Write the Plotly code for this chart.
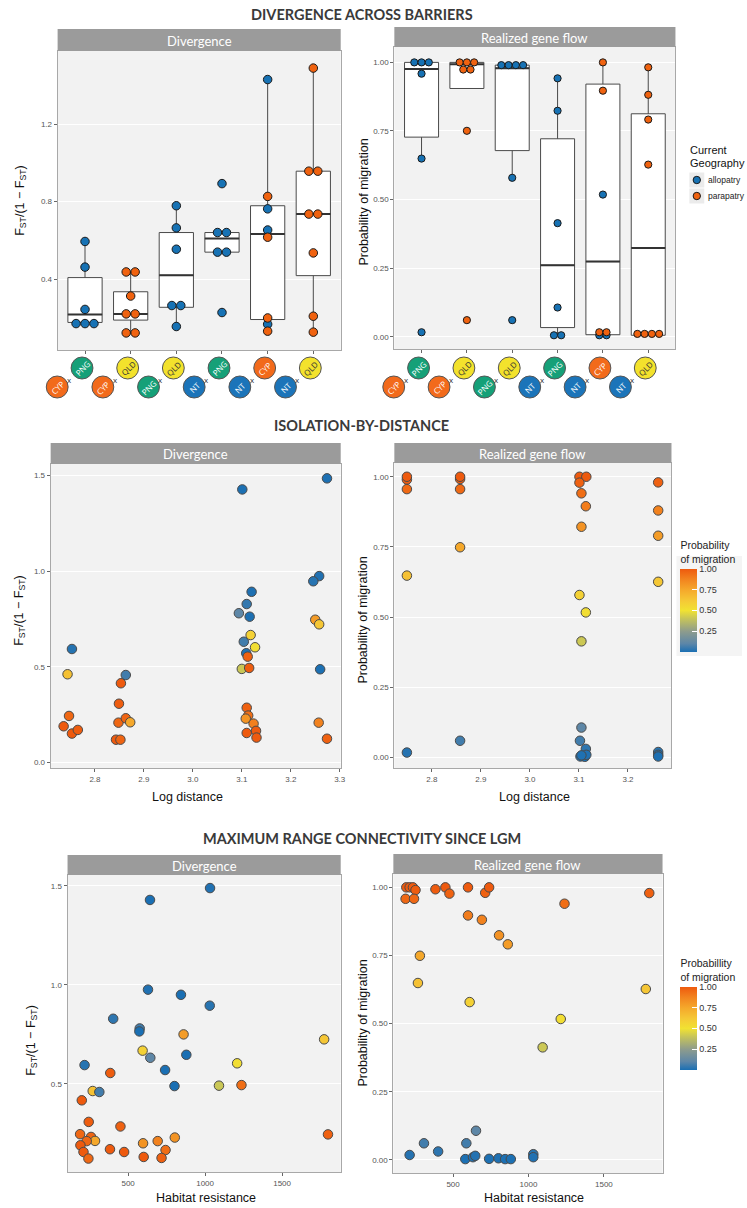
import plotly.graph_objects as go

W, H = 747, 1208

# ---------------- DATA ----------------
pair_first = ["CYP", "CYP", "PNG", "NT", "NT", "NT"]
pair_second = ["PNG", "QLD", "QLD", "PNG", "CYP", "QLD"]
cat_pos = [0, 1, 2, 3, 4, 5]

# Top-left: divergence across barriers (dots)
div_cat = [0, 0, 0, 0, 0, 0,
           1, 1, 1, 1, 1, 1, 1,
           2, 2, 2, 2, 2, 2,
           3, 3, 3, 3, 3, 3,
           4, 4, 4, 4, 4, 4, 4, 4,
           5, 5, 5, 5, 5, 5, 5, 5]
div_val = [0.595, 0.463, 0.245, 0.172, 0.172, 0.172,
           0.438, 0.438, 0.314, 0.222, 0.222, 0.124, 0.124,
           0.779, 0.665, 0.555, 0.265, 0.265, 0.157,
           0.893, 0.641, 0.641, 0.540, 0.540, 0.229,
           1.429, 0.827, 0.763, 0.654, 0.617, 0.201, 0.169, 0.133,
           1.488, 0.957, 0.957, 0.736, 0.736, 0.536, 0.210, 0.128]
div_geo = ["allopatry"] * 6 + ["parapatry"] * 7 + ["allopatry"] * 6 + ["allopatry"] * 6 + \
          ["allopatry", "parapatry", "allopatry", "allopatry", "parapatry", "parapatry", "allopatry", "parapatry"] + \
          ["parapatry"] * 8
# Top-left box statistics
div_q1 = [0.178, 0.190, 0.256, 0.540, 0.193, 0.419]
div_med = [0.219, 0.222, 0.421, 0.610, 0.634, 0.736]
div_q3 = [0.409, 0.336, 0.641, 0.641, 0.779, 0.957]
div_lo = [0.172, 0.124, 0.157, 0.540, 0.133, 0.128]
div_hi = [0.595, 0.438, 0.779, 0.641, 1.429, 1.488]

# Top-right: realized gene flow across barriers (dots)
gf_cat = [0, 0, 0, 0, 0, 0,
          1, 1, 1, 1, 1, 1, 1,
          2, 2, 2, 2, 2, 2,
          3, 3, 3, 3, 3, 3,
          4, 4, 4, 4, 4, 4, 4,
          5, 5, 5, 5, 5, 5, 5, 5]
gf_val = [0.999, 0.999, 0.999, 0.958, 0.649, 0.017,
          0.999, 0.999, 0.999, 0.973, 0.973, 0.750, 0.061,
          0.989, 0.989, 0.989, 0.989, 0.579, 0.061,
          0.941, 0.823, 0.414, 0.107, 0.006, 0.006,
          0.999, 0.896, 0.518, 0.017, 0.017, 0.006, 0.006,
          0.981, 0.881, 0.791, 0.627, 0.011, 0.011, 0.011, 0.011]
gf_geo = ["allopatry"] * 6 + ["parapatry"] * 7 + ["allopatry"] * 6 + ["allopatry"] * 6 + \
         ["parapatry", "parapatry", "allopatry", "parapatry", "parapatry", "allopatry", "allopatry"] + \
         ["parapatry"] * 8
gf_q1 = [0.727, 0.904, 0.678, 0.034, 0.008, 0.006]
gf_med = [0.975, 0.992, 0.978, 0.261, 0.274, 0.324]
gf_q3 = [0.999, 0.999, 0.989, 0.721, 0.920, 0.812]
gf_lo = [0.649, 0.904, 0.579, 0.006, 0.008, 0.006]
gf_hi = [0.999, 0.999, 0.989, 0.941, 0.999, 0.981]

# Middle-left: isolation by distance, divergence
ibd_x = [2.753, 2.744, 2.747, 2.736, 2.753, 2.765,
         2.863, 2.853, 2.849, 2.848, 2.863, 2.872, 2.843, 2.852,
         3.101, 3.120, 3.110, 3.094, 3.116, 3.104, 3.118, 3.127, 3.109, 3.112,
         3.100, 3.115, 3.110, 3.113, 3.108, 3.124, 3.110, 3.129, 3.130,
         3.274, 3.258, 3.246, 3.250, 3.258, 3.260, 3.257, 3.274]
ibd_fst = [0.594, 0.462, 0.244, 0.190, 0.152, 0.171,
           0.458, 0.415, 0.308, 0.209, 0.232, 0.211, 0.120, 0.120,
           1.428, 0.893, 0.829, 0.781, 0.763, 0.632, 0.667, 0.603, 0.572, 0.554,
           0.490, 0.495, 0.287, 0.246, 0.230, 0.204, 0.155, 0.166, 0.131,
           1.486, 0.975, 0.948, 0.747, 0.723, 0.488, 0.209, 0.125]
ibd_p = [0.017, 0.65, 0.96, 1.0, 1.0, 0.99,
         0.06, 1.0, 0.99, 0.96, 0.97, 0.75, 1.0, 0.97,
         0.003, 0.006, 0.04, 0.107, 0.003, 0.06, 0.58, 0.52, 0.01, 0.98,
         0.41, 0.99, 0.98, 0.94, 0.82, 0.89, 1.0, 1.0, 1.0,
         0.004, 0.01, 0.02, 0.79, 0.63, 0.003, 0.88, 0.98]

# Middle-right: isolation by distance, gene flow
ibdm_x = [2.749, 2.749, 2.749, 2.749, 2.749,
          2.8575, 2.8575, 2.8575, 2.8575, 2.8575,
          3.101, 3.115, 3.101, 3.105, 3.114, 3.105, 3.101, 3.114, 3.105, 3.105,
          3.102, 3.114, 3.103, 3.112, 3.115, 3.105,
          3.2616, 3.2616, 3.2616, 3.2616, 3.2616, 3.2616, 3.2616]
ibdm_p = [0.99, 1.0, 0.956, 0.648, 0.018,
          0.992, 1.0, 0.956, 0.749, 0.060,
          1.0, 1.0, 0.979, 0.941, 0.895, 0.822, 0.579, 0.517, 0.414, 0.107,
          0.060, 0.031, 0.004, 0.003, 0.010, 0.008,
          0.980, 0.880, 0.790, 0.626, 0.020, 0.010, 0.004]

# Bottom-left: habitat resistance, divergence
hr_x = [270, 313, 801, 199, 244, 450, 188, 259, 285, 231, 190, 597, 692, 803,
        210, 382, 474, 743, 242, 601, 717,
        1032, 642, 629, 843, 1030, 403, 575, 573, 860, 1773, 594, 644, 878,
        217, 1208, 384, 740, 1090, 1236, 1798]
hr_fst = [0.463, 0.458, 0.488, 0.416, 0.307, 0.284, 0.245, 0.231, 0.211, 0.210, 0.189, 0.199, 0.210, 0.228,
          0.155, 0.169, 0.155, 0.165, 0.122, 0.130, 0.125,
          1.488, 1.428, 0.975, 0.949, 0.894, 0.828, 0.779, 0.764, 0.749, 0.724, 0.667, 0.631, 0.646,
          0.594, 0.603, 0.554, 0.569, 0.490, 0.493, 0.244]
hr_p = [0.65, 0.06, 0.0, 1.0, 0.99, 0.98, 0.96, 0.97, 0.75, 0.96, 1.0, 0.82, 0.88, 0.82,
        1.0, 1.0, 1.0, 0.94, 0.96, 1.0, 0.98,
        0.01, 0.0, 0.01, 0.0, 0.02, 0.03, 0.06, 0.0, 0.79, 0.63, 0.58, 0.107, 0.0,
        0.02, 0.52, 0.99, 0.0, 0.41, 0.94, 0.98]

# Bottom-right: habitat resistance, gene flow
hrm_x = [190, 212, 234, 251, 185, 241, 383, 449, 476, 599, 713, 739, 599, 691,
         1239, 1801, 805, 863, 280, 267, 610, 1214, 1094, 1778,
         212, 307, 401, 652, 588, 581, 632, 647, 739, 801, 845, 883, 1032, 1032]
hrm_p = [1.0, 1.0, 1.0, 0.99, 0.958, 0.958, 0.993, 1.0, 0.977, 1.0, 0.980, 1.0, 0.897, 0.881,
         0.940, 0.979, 0.824, 0.791, 0.749, 0.649, 0.579, 0.517, 0.413, 0.627,
         0.018, 0.061, 0.031, 0.107, 0.061, 0.003, 0.010, 0.015, 0.004, 0.006, 0.003, 0.003, 0.021, 0.010]

# ---------------- STYLE ----------------
BLUE = "#1772b4"
ORANGE = "#f0620f"
POP_COL = {"CYP": "#f26a1b", "PNG": "#15a078", "QLD": "#f3e22c", "NT": "#1b74b9"}
POP_TXT = {"CYP": "white", "PNG": "white", "QLD": "#333333", "NT": "white"}
CSCALE = [[0.0, "#1a6fb3"], [0.1, "#5c86a8"], [0.25, "#8e9c8c"], [0.4, "#c6c45a"],
          [0.5, "#f1e232"], [0.62, "#f5c836"], [0.75, "#f5a82b"], [0.88, "#f2821e"], [1.0, "#ee5a0e"]]
AX_FONT = "Liberation Sans"
STRIP_FONT = "Lato"


def fx(p):
    return p / W


def fy(p):
    return 1 - p / H


def dodge(cats, vals, step):
    groups = {}
    for i, (c, v) in enumerate(zip(cats, vals)):
        groups.setdefault((c, v), []).append(i)
    offs = [0.0] * len(vals)
    for idx in groups.values():
        n = len(idx)
        for k, i in enumerate(idx):
            offs[i] = (k - (n - 1) / 2) * step
    return [c + o for c, o in zip(cats, offs)]


fig = go.Figure()

# ---- box panels ----
for (xa, ya, cats, vals, geos, q1, med, q3, lo, hi, step, msize) in [
    ("x", "y", div_cat, div_val, div_geo, div_q1, div_med, div_q3, div_lo, div_hi, 0.196, 8.5),
    ("x2", "y2", gf_cat, gf_val, gf_geo, gf_q1, gf_med, gf_q3, gf_lo, gf_hi, 0.16, 7.2),
]:
    fig.add_trace(go.Box(x=cat_pos, q1=q1, median=med, q3=q3, lowerfence=lo, upperfence=hi,
                         width=0.75, fillcolor="white", line=dict(color="#4a4a4a", width=1),
                         whiskerwidth=0, boxpoints=False, showlegend=False,
                         xaxis=xa, yaxis=ya, hoverinfo="skip"))
    mx, my = [], []
    for c, m in zip(cat_pos, med):
        mx += [c - 0.375, c + 0.375, None]
        my += [m, m, None]
    fig.add_trace(go.Scatter(x=mx, y=my, mode="lines", line=dict(color="#333333", width=2),
                             showlegend=False, xaxis=xa, yaxis=ya, hoverinfo="skip"))
    xs = dodge(cats, vals, step)
    for geo, col in [("allopatry", BLUE), ("parapatry", ORANGE)]:
        sel = [i for i, g in enumerate(geos) if g == geo]
        fig.add_trace(go.Scatter(x=[xs[i] for i in sel], y=[vals[i] for i in sel], mode="markers",
                                 marker=dict(color=col, size=msize, line=dict(color="#1a1a1a", width=1)),
                                 showlegend=False, xaxis=xa, yaxis=ya, cliponaxis=False))

# ---- scatter panels ----
mk = dict(size=9.5, line=dict(color="#4a4a4a", width=1))
fig.add_trace(go.Scatter(x=ibd_x, y=ibd_fst, mode="markers", xaxis="x3", yaxis="y3", showlegend=False,
                         marker=dict(color=ibd_p, coloraxis="coloraxis", **mk)))
fig.add_trace(go.Scatter(x=ibdm_x, y=ibdm_p, mode="markers", xaxis="x4", yaxis="y4", showlegend=False,
                         marker=dict(color=ibdm_p, coloraxis="coloraxis", **mk)))
fig.add_trace(go.Scatter(x=hr_x, y=hr_fst, mode="markers", xaxis="x5", yaxis="y5", showlegend=False,
                         marker=dict(color=hr_p, coloraxis="coloraxis2", **mk)))
fig.add_trace(go.Scatter(x=hrm_x, y=hrm_p, mode="markers", xaxis="x6", yaxis="y6", showlegend=False,
                         marker=dict(color=hrm_p, coloraxis="coloraxis2", **mk)))


def axbase():
    return dict(showline=True, mirror=True, linecolor="#a8a8a8", linewidth=1, ticks="outside",
                ticklen=3, tickcolor="#666666", zeroline=False,
                tickfont=dict(size=8, color="#555555", family=AX_FONT))


panels = {
    # name: (xdom px, ydom px, xrange, yrange)
    "1": ((58, 343), (51, 350), (-0.6, 5.6), (0.036, 1.576)),
    "2": ((397, 680), (47, 349), (-0.6, 5.6), (-0.044, 1.055)),
    "3": ((51, 343), (464, 768), (2.7095, 3.302), (-0.028, 1.561)),
    "4": ((397, 676), (463, 768), (2.7234, 3.2887), (-0.037, 1.049)),
    "5": ((68, 343), (875, 1172), (106.5, 1880.6), (0.054, 1.554)),
    "6": ((396, 667), (874, 1173), (104, 1889), (-0.048, 1.049)),
}
ytick = {
    "1": ([0.4, 0.8, 1.2], ["0.4", "0.8", "1.2"]),
    "2": ([0, 0.25, 0.5, 0.75, 1.0], ["0.00", "0.25", "0.50", "0.75", "1.00"]),
    "3": ([0, 0.5, 1.0, 1.5], ["0.0", "0.5", "1.0", "1.5"]),
    "4": ([0, 0.25, 0.5, 0.75, 1.0], ["0.00", "0.25", "0.50", "0.75", "1.00"]),
    "5": ([0.5, 1.0, 1.5], ["0.5", "1.0", "1.5"]),
    "6": ([0, 0.25, 0.5, 0.75, 1.0], ["0.00", "0.25", "0.50", "0.75", "1.00"]),
}
xtick = {
    "1": ([0, 1, 2, 3, 4, 5], [""] * 6),
    "2": ([0, 1, 2, 3, 4, 5], [""] * 6),
    "3": ([2.8, 2.9, 3.0, 3.1, 3.2, 3.3], ["2.8", "2.9", "3.0", "3.1", "3.2", "3.3"]),
    "4": ([2.8, 2.9, 3.0, 3.1, 3.2], ["2.8", "2.9", "3.0", "3.1", "3.2"]),
    "5": ([500, 1000, 1500], ["500", "1000", "1500"]),
    "6": ([500, 1000, 1500], ["500", "1000", "1500"]),
}
layout = {}
for k, (xd, yd, xr, yr) in panels.items():
    xn = "xaxis" if k == "1" else "xaxis" + k
    yn = "yaxis" if k == "1" else "yaxis" + k
    xa = axbase()
    xa.update(domain=[fx(xd[0]), fx(xd[1])], range=list(xr), showgrid=False,
              anchor="y" if k == "1" else "y" + k, tickvals=xtick[k][0], ticktext=xtick[k][1])
    ya = axbase()
    ya.update(domain=[fy(yd[1]), fy(yd[0])], range=list(yr), showgrid=True, gridcolor="white",
              gridwidth=1, anchor="x" if k == "1" else "x" + k, tickvals=ytick[k][0], ticktext=ytick[k][1])
    layout[xn] = xa
    layout[yn] = ya

shapes = []
annotations = []


def ann(text, x, y, size, color="#111111", family=AX_FONT, angle=0, xanchor="center", yanchor="middle"):
    annotations.append(dict(text=text, x=fx(x), y=fy(y), xref="paper", yref="paper", showarrow=False,
                            font=dict(size=size, color=color, family=family), textangle=angle,
                            xanchor=xanchor, yanchor=yanchor))


# section titles
ann("<b>DIVERGENCE ACROSS BARRIERS</b>", 364, 15, 14.5, "#3a3a3a", STRIP_FONT)
ann("<b>ISOLATION-BY-DISTANCE</b>", 364, 425, 14.5, "#3a3a3a", STRIP_FONT)
ann("<b>MAXIMUM RANGE CONNECTIVITY SINCE LGM</b>", 364, 838, 14.5, "#3a3a3a", STRIP_FONT)

# strips
strips = [((58, 343), (29, 51), "Divergence"), ((397, 680), (27, 47), "Realized gene flow"),
          ((51, 343), (443, 464), "Divergence"), ((397, 676), (443, 463), "Realized gene flow"),
          ((68, 343), (855, 875), "Divergence"), ((396, 667), (854, 874), "Realized gene flow")]
for (x0, x1), (y0, y1), t in strips:
    shapes.append(dict(type="rect", xref="paper", yref="paper", x0=fx(x0), x1=fx(x1), y0=fy(y1), y1=fy(y0),
                       fillcolor="#9b9b9b", line=dict(width=0), layer="above"))
    ann(t, (x0 + x1) / 2, (y0 + y1) / 2 + 0.5, 13, "white", STRIP_FONT)

# axis titles
FST = "F<sub>ST</sub>/(1 \u2212 F<sub>ST</sub>)"
ann(FST, 21, 200, 12.5, angle=-90)
ann("Probability of migration", 366, 202, 12.5, angle=-90)
ann(FST, 20, 610, 12.5, angle=-90)
ann("Probability of migration", 365, 620, 12.5, angle=-90)
ann(FST, 32, 1040, 12.5, angle=-90)
ann("Probability of migration", 365, 1023, 12.5, angle=-90)
ann("Log distance", 189, 797, 12.5)
ann("Log distance", 538, 797, 12.5)
ann("Habitat resistance", 207, 1198, 12.5)
ann("Habitat resistance", 538, 1198, 12.5)


# population icons under the box panels (positions derived from the category axis scale)
def cat_to_px(panel, c):
    xd, _, xr, _ = panels[panel]
    return xd[0] + (c - xr[0]) / (xr[1] - xr[0]) * (xd[1] - xd[0])


R = 11
for panel in ["1", "2"]:
    for c, a, b in zip(cat_pos, pair_first, pair_second):
        cx = cat_to_px(panel, c)
        for pop, dx, cy in [(a, -28, 387), (b, -3, 368)]:
            px = cx + dx
            shapes.append(dict(type="circle", xref="paper", yref="paper",
                               x0=fx(px - R), x1=fx(px + R), y0=fy(cy + R), y1=fy(cy - R),
                               fillcolor=POP_COL[pop], line=dict(color="#555555", width=1), layer="above"))
            ann(pop, px, cy, 8, POP_TXT[pop], "Open Sans", angle=-45)
        ann("x", cx - 15.5, 380, 8, "#333333", "Open Sans")

# Current Geography legend
ann("Current", 693, 150, 11, xanchor="left")
ann("Geography", 693, 163, 11, xanchor="left")
for ypx, col, lab in [(180, BLUE, "allopatry"), (196, ORANGE, "parapatry")]:
    shapes.append(dict(type="rect", xref="paper", yref="paper", x0=fx(694), x1=fx(709),
                       y0=fy(ypx + 7.5), y1=fy(ypx - 7.5), fillcolor="#ebebeb", line=dict(width=0)))
    shapes.append(dict(type="circle", xref="paper", yref="paper", x0=fx(701.5 - 3.7), x1=fx(701.5 + 3.7),
                       y0=fy(ypx + 3.7), y1=fy(ypx - 3.7), fillcolor=col, line=dict(color="#1a1a1a", width=1)))
    ann(lab, 711, ypx, 8.5, "#222222", xanchor="left")

# light background behind middle colorbar
shapes.append(dict(type="rect", xref="paper", yref="paper", x0=fx(681), x1=fx(747), y0=fy(656), y1=fy(556),
                   fillcolor="#f4f4f4", line=dict(width=0), layer="below"))


def cbar(title, ybottom):
    return dict(title=dict(text=title, side="top", font=dict(size=10.5, family=AX_FONT, color="#222222")),
                x=fx(685), xanchor="left", y=fy(ybottom), yanchor="bottom",
                len=114, lenmode="pixels", thickness=17, thicknessmode="pixels",
                tickvals=[0.25, 0.5, 0.75, 1.0], ticktext=["0.25", "0.50", "0.75", "1.00"],
                ticks="inside", ticklen=5, tickcolor="white", tickwidth=1,
                tickfont=dict(size=9, color="#333333", family=AX_FONT),
                outlinewidth=0, xpad=0, ypad=0)


fig.update_layout(
    width=W, height=H, margin=dict(l=0, r=0, t=0, b=0),
    paper_bgcolor="white", plot_bgcolor="#f2f2f2",
    showlegend=False,
    coloraxis=dict(colorscale=CSCALE, cmin=0, cmax=1, colorbar=cbar("Probability<br>of migration", 652)),
    coloraxis2=dict(colorscale=CSCALE, cmin=0, cmax=1, colorbar=cbar("Probabillity<br>of migration", 1070)),
    shapes=shapes, annotations=annotations,
    **layout,
)

fig.write_html("out.html", config={"displayModeBar": False},
               post_script="document.body.style.margin='0px';document.body.style.overflow='hidden';")
